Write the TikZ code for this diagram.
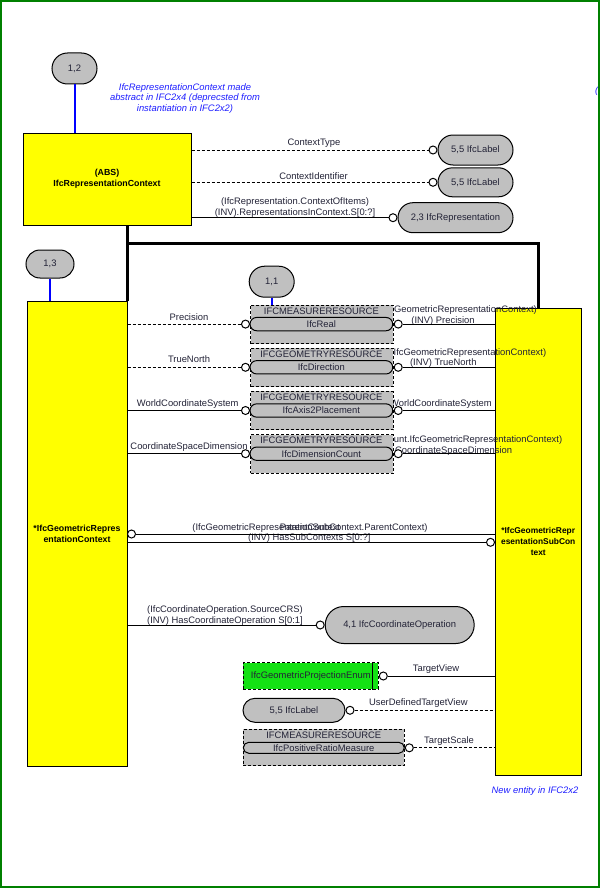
\documentclass[tikz,border=0pt]{standalone}
\usepackage{fontspec}
\setmainfont{Liberation Sans}
\usetikzlibrary{shapes.misc,calc}
\definecolor{bgreen}{RGB}{0,128,0}
\definecolor{yel}{RGB}{255,255,0}
\definecolor{gry}{RGB}{192,192,192}
\definecolor{grn}{RGB}{20,225,20}
\definecolor{txt}{RGB}{35,35,55}
\definecolor{nb}{RGB}{30,30,255}
\newcommand\myfnt{\fontsize{9.4}{11}\selectfont}
\newcommand\myfntb{\fontsize{8.8}{11.3}\selectfont\bfseries}
\newcommand\notefnt{\fontsize{9.4}{10.7}\selectfont\itshape}
\begin{document}
\begin{tikzpicture}[x=1pt,y=-1pt,line width=1pt,
  lbl/.style={font=\myfnt,text=txt,inner sep=0,align=center},
  ent/.style={draw,fill=yel,inner sep=0,font=\myfntb,align=center,text=black},
  oval/.style={rounded rectangle,draw,fill=gry,inner sep=0,font=\myfnt,text=txt},
  circ/.style={circle,draw,fill=white,minimum size=8,inner sep=0},
  dsh/.style={dash pattern=on 3pt off 2pt},
  rbox/.style={draw,dsh,fill=gry,inner sep=0,minimum width=142.7,minimum height=38.5},
  rname/.style={rounded rectangle,draw,fill=gry,inner sep=0,minimum width=142.7,minimum height=13.3,font=\myfnt,text=txt},
  note/.style={font=\notefnt,text=nb,inner sep=0,align=center},
  thk/.style={line width=3pt},
  blu/.style={draw=blue,line width=2pt}]
\useasboundingbox (0,0) rectangle (600,888);
\fill[white] (0,0) rectangle (600,888);

% entities
\node[ent,minimum width=168,minimum height=92] (rc) at (107,179) {(ABS)\\IfcRepresentationContext};
\node[ent,minimum width=100,minimum height=465] (grc) at (77,533.5) {*IfcGeometricRepres\\entationContext};
\node[ent,minimum width=86.5,minimum height=467.5,font=\fontsize{8.4}{10.8}\selectfont\bfseries] (gsc) at (538.25,541.75) {*IfcGeometricRepr\\esentationSubCon\\text};

% thick subtype lines
\coordinate (j) at (127,243);
\draw[thk] (grc.north east) -- (grc.north east |- rc.south);
\draw[thk] (j) -| (gsc.north);

% page reference ovals
\node[oval,minimum width=45,minimum height=31] (o12) at (74.5,68.5) {1,2};
\node[oval,minimum width=48,minimum height=28] (o13) at (50,264) {1,3};
\node[oval,minimum width=45,minimum height=31] (o11) at (271.7,281.7) {1,1};
\draw[blu] (o12.south) -- (o12.south |- rc.north);
\draw[blu] (o13.south) -- (o13.south |- grc.north);

% notes
\node[note] (n1) at (185,98.3) {IfcRepresentationContext made\\abstract in IFC2x4 (deprecsted from\\instantiation in IFC2x2)};
\node[note] (n2) at (535,790.7) {New entity in IFC2x2};
\node[note,anchor=west] (n3) at (594.6,91.5) {(};

% targets of IfcRepresentationContext
\node[oval,minimum width=75,minimum height=30] (l1) at (475.5,150) {5,5 IfcLabel};
\node[oval,minimum width=75,minimum height=29] (l2) at (475.5,182.3) {5,5 IfcLabel};
\node[oval,minimum width=115,minimum height=30] (rep) at (455.5,217.7) {2,3 IfcRepresentation};
\node[lbl] (t1) at (314,142.7) {ContextType};
\node[lbl] (t2) at (313.5,175.7) {ContextIdentifier};
\node[lbl] (t3) at (295,207.2) {(IfcRepresentation.ContextOfItems)\\(INV).RepresentationsInContext.S[0:?]};
\node[circ,anchor=east] (c1) at (l1.west) {};
\node[circ,anchor=east] (c2) at (l2.west) {};
\node[circ,anchor=east] (c3) at (rep.west) {};
\draw[dsh] (rc.east |- c1) -- (c1.west);
\draw[dsh] (rc.east |- c2) -- (c2.west);
\draw (rc.east |- c3) -- (c3.west);

% labels of resource links
\node[lbl] (p1) at (189,316.7) {Precision};
\node[lbl] (p2) at (189,359.3) {TrueNorth};
\node[lbl] (p3) at (187.7,404) {WorldCoordinateSystem};
\node[lbl] (p4) at (189,446.7) {CoordinateSpaceDimension};
\node[lbl,anchor=east] (q1a) at (537.3,310) {cGeometricRepresentationContext)};
\node[lbl] (q1b) at (443,320.7) {(INV) Precision};
\node[lbl,anchor=east] (q2a) at (546.7,352.7) {IfcGeometricRepresentationContext)};
\node[lbl] (q2b) at (443.3,363.3) {(INV) TrueNorth};
\node[lbl,anchor=east] (q3a) at (492.3,404) {WorldCoordinateSystem};
\node[lbl,anchor=east] (q4a) at (562.7,440) {unt.IfcGeometricRepresentationContext)};
\node[lbl,anchor=east] (q4b) at (512.7,450.7) {(INV) CoordinateSpaceDimension};

% resource boxes
\node[rbox,anchor=north west] (r1) at (250,304.5) {};
\node[lbl] (r1h) at (321.35,311) {IFCMEASURERESOURCE};
\node[rname] (r1n) at (321.35,324.1) {IfcReal};
\node[rbox,anchor=north west] (r2) at (250,347.7) {};
\node[lbl] (r2h) at (321.35,354.2) {IFCGEOMETRYRESOURCE};
\node[rname] (r2n) at (321.35,367.3) {IfcDirection};
\node[rbox,anchor=north west] (r3) at (250,390.9) {};
\node[lbl] (r3h) at (321.35,397.4) {IFCGEOMETRYRESOURCE};
\node[rname] (r3n) at (321.35,410.5) {IfcAxis2Placement};
\node[rbox,anchor=north west] (r4) at (250,434.1) {};
\node[lbl] (r4h) at (321.35,440.6) {IFCGEOMETRYRESOURCE};
\node[rname] (r4n) at (321.35,453.7) {IfcDimensionCount};
\draw[blu] (o11.south) -- (o11.south |- r1.north);

\foreach \i in {1,2,3,4}{
  \node[circ,anchor=east] (cl\i) at (r\i.west |- r\i n) {};
  \node[circ,anchor=west] (cr\i) at (r\i.east |- r\i n) {};
  \draw (cr\i.east) -- (cr\i -| gsc.west);
}
\draw[dsh] (grc.east |- cl1) -- (cl1.west);
\draw[dsh] (grc.east |- cl2) -- (cl2.west);
\draw (grc.east |- cl3) -- (cl3.west);
\draw (grc.east |- cl4) -- (cl4.west);

% parent context / sub contexts
\node[lbl] (pc1) at (310,527.7) {(IfcGeometricRepresentationSubContext.ParentContext)};
\node[lbl] (pc2) at (310,527.7) {ParentContext};
\node[lbl] (pc3) at (309.3,538.3) {(INV) HasSubContexts S[0:?]};
\node[circ,anchor=west] (cpc) at (127,534) {};
\node[circ,anchor=east] (chs) at (495,542.3) {};
\draw (cpc.east) -- (cpc -| gsc.west);
\draw (grc.east |- chs) -- (chs.west);

% coordinate operation
\node[oval,minimum width=149,minimum height=37] (cop) at (399.7,625) {4,1 IfcCoordinateOperation};
\node[lbl] (co1) at (225,615.8) {(IfcCoordinateOperation.SourceCRS)\\(INV) HasCoordinateOperation S[0:1]};
\node[circ,anchor=east] (ccop) at (cop.west) {};
\draw (grc.east |- ccop) -- (ccop.west);

% bottom attributes of sub context
\node[draw,dsh,fill=grn,inner sep=0,minimum width=135,minimum height=26.6,font=\myfnt,text=txt] (en) at (310.8,676) {IfcGeometricProjectionEnum};
\draw ([xshift=-6pt]en.north east) -- ([xshift=-6pt]en.south east);
\node[oval,minimum width=102,minimum height=24] (lb5) at (294,710.3) {5,5 IfcLabel};
\node[rbox,minimum width=161,minimum height=36.4] (r5) at (323.8,747.5) {};
\node[lbl] (r5h) at (323.8,735.3) {IFCMEASURERESOURCE};
\node[rname,minimum width=161,minimum height=11] (r5n) at (323.8,747.8) {IfcPositiveRatioMeasure};
\node[lbl] (b1) at (436,669.3) {TargetView};
\node[lbl] (b2) at (418.3,702.7) {UserDefinedTargetView};
\node[lbl] (b3) at (449,740.7) {TargetScale};
\node[circ,anchor=west] (cen) at (en.east) {};
\node[circ,anchor=west] (clb5) at (lb5.east) {};
\node[circ,anchor=west] (cr5) at (r5.east |- r5n) {};
\draw (cen.east) -- (cen -| gsc.west);
\draw[dsh] (clb5.east) -- (clb5 -| gsc.west);
\draw[dsh] (cr5.east) -- (cr5 -| gsc.west);

% frame
\draw[bgreen,line width=1.6pt] (1,1) rectangle (598.9,887);
\end{tikzpicture}
\end{document}
